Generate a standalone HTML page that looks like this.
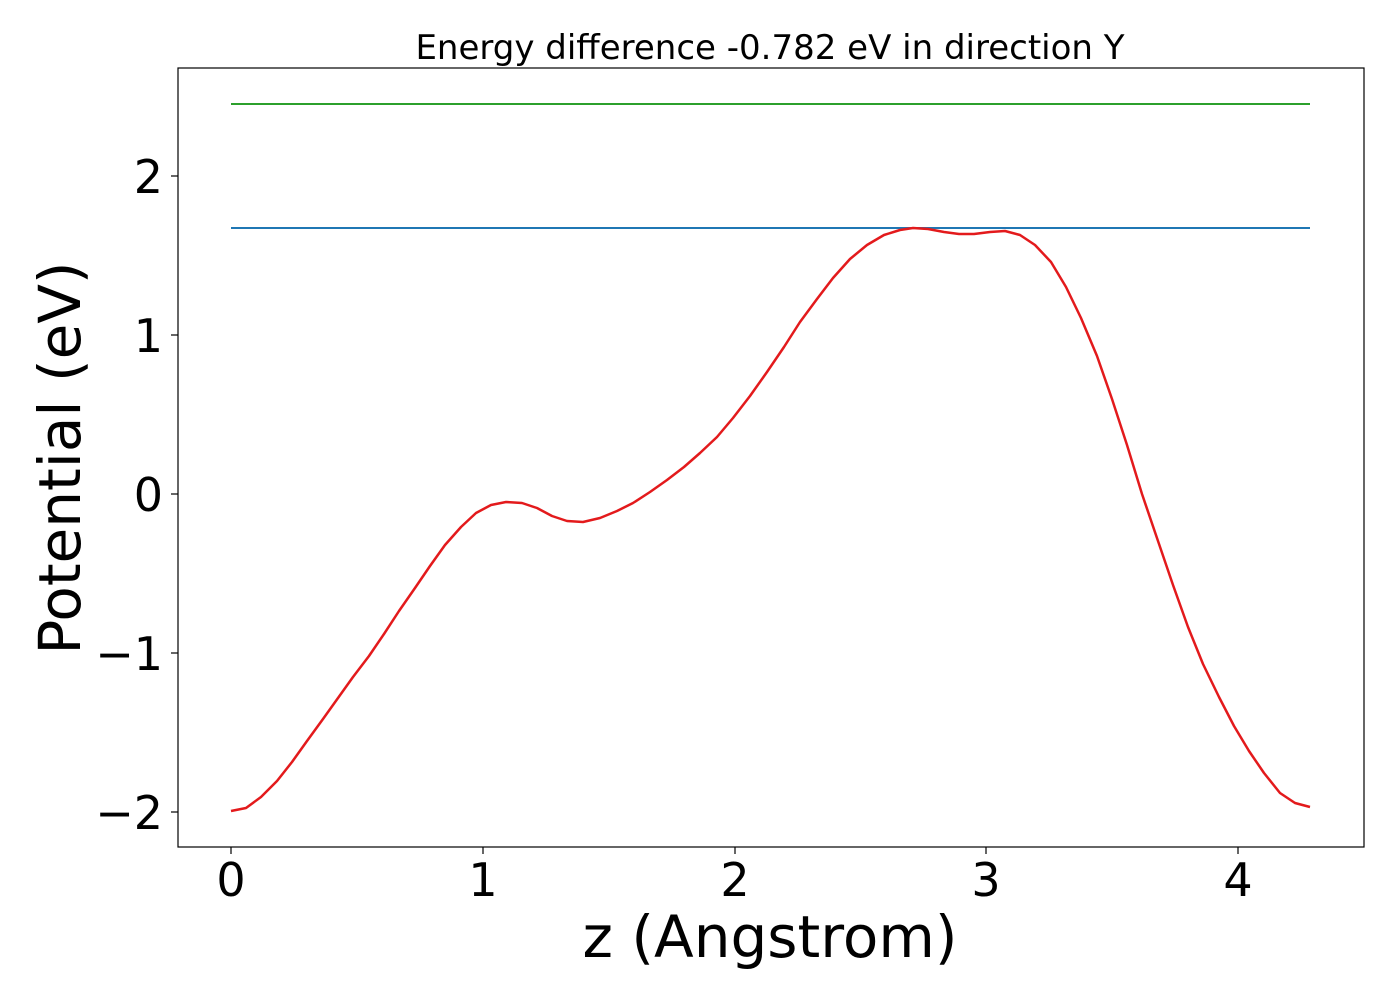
<!DOCTYPE html>
<html><head><meta charset="utf-8"><style>html,body{margin:0;padding:0;background:#fff}</style></head>
<body>
<svg width="1400" height="1000" xmlns="http://www.w3.org/2000/svg" font-family="'DejaVu Sans','Liberation Sans',sans-serif">
<rect width="1400" height="1000" fill="#fff"/>
<text x="770" y="59" font-size="34" text-anchor="middle">Energy difference -0.782 eV in direction Y</text>
<line x1="231" y1="104" x2="1310" y2="104" stroke="#2ca02c" stroke-width="2"/>
<line x1="231" y1="228" x2="1310" y2="228" stroke="#1f77b4" stroke-width="2"/>
<polyline fill="none" stroke="#e31a1c" stroke-width="2.5" stroke-linejoin="round" points="231,811 246,808 261,797 277,781 292,762 307,741 323,719 338,698 353,677 369,656 384,634 399,611 415,588 430,566 445,545 461,527 476,513 491,505 506,502 522,503 537,508 552,516 567,521 583,522 600,518 617,511 633,503 650,492 667,480 684,467 700,453 717,437 733,418 750,396 767,372 784,347 800,322 817,299 833,278 850,259 867,245 884,235 900,230 913,228 928,229 944,232 959,234 974,234 990,232 1005,231 1020,235 1035,245 1051,262 1066,287 1081,318 1097,356 1112,399 1127,445 1142,494 1158,541 1173,585 1188,627 1203,664 1219,697 1234,726 1249,751 1264,773 1280,793 1295,803 1310,807"/>
<rect x="178" y="68" width="1186" height="779" fill="none" stroke="#000" stroke-width="1.2"/>
<g stroke="#000" stroke-width="1.2">
<line x1="231" y1="847" x2="231" y2="854"/><line x1="483" y1="847" x2="483" y2="854"/><line x1="735" y1="847" x2="735" y2="854"/><line x1="986" y1="847" x2="986" y2="854"/><line x1="1238" y1="847" x2="1238" y2="854"/>
<line x1="171" y1="176" x2="178" y2="176"/><line x1="171" y1="335" x2="178" y2="335"/><line x1="171" y1="494" x2="178" y2="494"/><line x1="171" y1="653" x2="178" y2="653"/><line x1="171" y1="812" x2="178" y2="812"/>
</g>
<g font-size="46" text-anchor="middle">
<text x="231" y="896">0</text><text x="483" y="896">1</text><text x="735" y="896">2</text><text x="986" y="896">3</text><text x="1238" y="896">4</text>
</g>
<g font-size="46" text-anchor="end">
<text x="163" y="193">2</text><text x="163" y="352">1</text><text x="163" y="511">0</text><text x="163" y="670">−1</text><text x="163" y="829">−2</text>
</g>
<text x="770" y="957" font-size="58" text-anchor="middle">z (Angstrom)</text>
<text transform="translate(80,458) rotate(-90)" font-size="58" text-anchor="middle">Potential (eV)</text>
</svg>
</body></html>
